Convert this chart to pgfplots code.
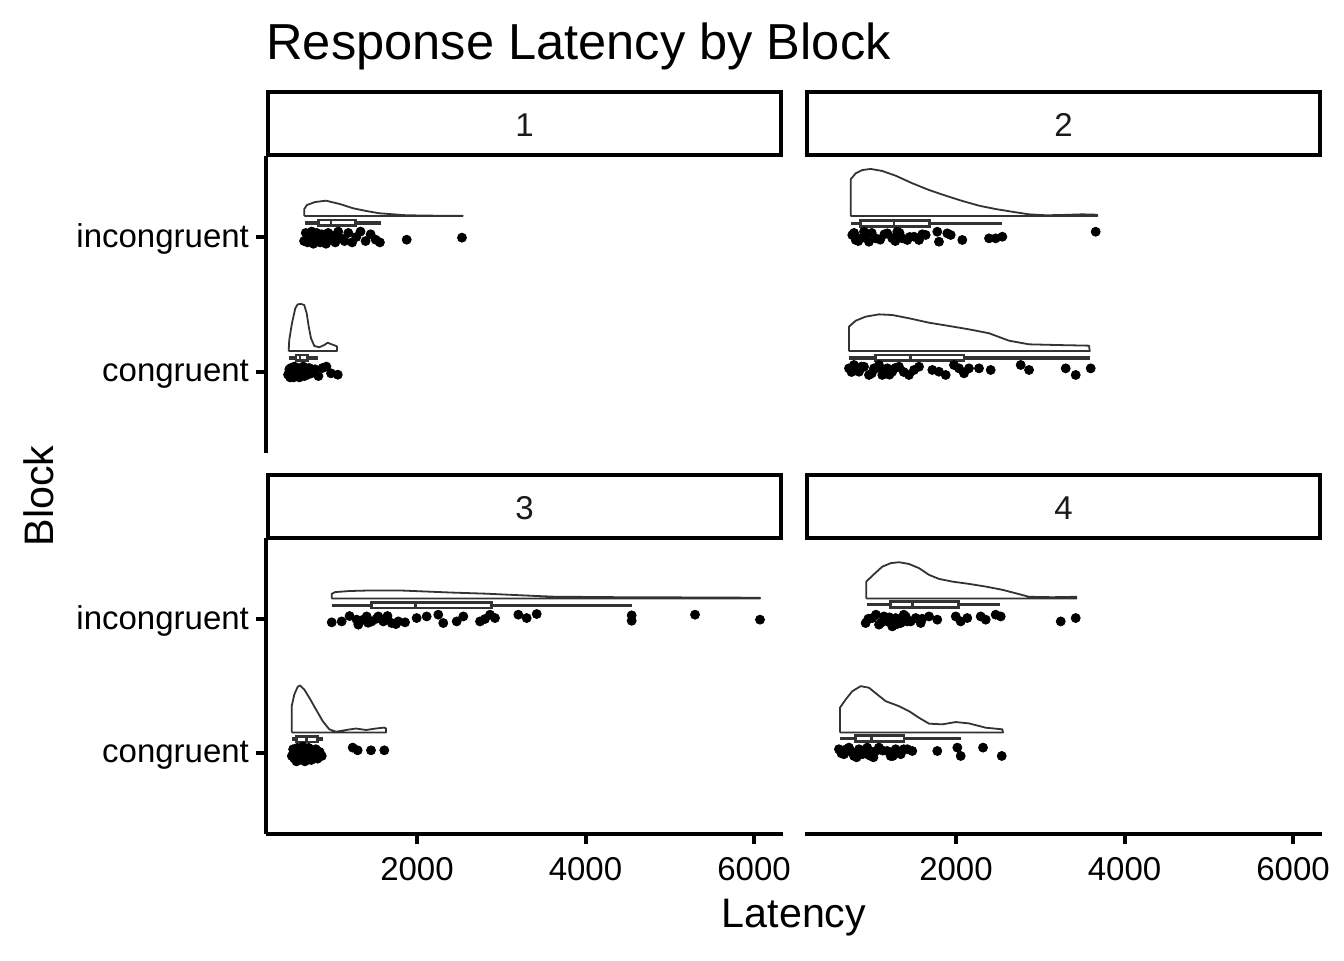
\documentclass[border=0pt]{standalone}
\usepackage{fontspec}
\setmainfont{Liberation Sans}
\usepackage{pgfplots}
\pgfplotsset{compat=1.18}
\usepgfplotslibrary{statistics}
\definecolor{ln}{HTML}{333333}
\definecolor{strip}{HTML}{1A1A1A}
\pgfplotsset{
  panel/.style={
    scale only axis, width=258.5pt, height=148.5pt,
    xmin=208, xmax=6344, ymin=0.4, ymax=2.6,
    anchor=north west,
    axis line style={line width=2pt, black},
    every tick/.style={line width=2pt, black},
    major tick length=5pt,
    tick align=outside,
    xtick={2000,4000,6000}, xticklabels={2000,4000,6000},
    ytick={1,2}, yticklabels={congruent,incongruent},
    tick label style={font=\fontsize{16.5}{19.8}\selectfont, black},
    xticklabel style={yshift=-3pt},
    yticklabel style={yshift=-1.2pt},
    /pgf/number format/assume math mode=true,
    clip=false,
  },
  vio/.style={line width=0.9pt, ln, line join=round},
  pts/.style={only marks, mark=*, mark size=2.25pt, black},
  bx/.style={ln, line width=1.4pt, fill=white, solid,
    boxplot/draw direction=x, boxplot/box extend=0.042, boxplot/whisker extend=0,
    boxplot/every whisker/.style={line width=1.7pt}},
}
\begin{document}
\begin{tikzpicture}
\path[use as bounding box] (0,0) rectangle (672pt,480pt);

% ---------- Panel 1 ----------
\begin{axis}[panel, at={(133pt,402pt)}, axis x line=none, axis y line*=left, xtick=\empty]
\addplot[vio] coordinates {(662,2.155) (662,2.207) (694,2.237) (789,2.259) (920,2.269) (1086,2.244) (1240,2.213) (1395,2.193) (1549,2.176) (1869,2.161) (2200,2.158) (2542,2.158) (2542,2.155) (662,2.155)};
\addplot[vio] coordinates {(477,1.155) (484,1.237) (516,1.361) (556,1.472) (584,1.501) (623,1.504) (662,1.496) (691,1.435) (715,1.336) (742,1.250) (781,1.193) (840,1.183) (900,1.200) (940,1.217) (979,1.207) (1039,1.193) (1050,1.190) (1050,1.155) (477,1.155)};
\addplot[bx, boxplot prepared={lower whisker=671, lower quartile=828, median=979, upper quartile=1268, upper whisker=1573, draw position=2.105}] coordinates {};
\addplot[bx, boxplot prepared={lower whisker=484, lower quartile=564, median=611, upper quartile=703, upper whisker=821, draw position=1.105}] coordinates {};
\addplot[pts] coordinates {(660,1.97) (680,2.03) (700,1.96) (715,2.01) (735,1.98) (750,2.04) (770,1.95) (790,2.00) (810,2.03) (830,1.97) (850,1.96) (870,2.02) (895,1.99) (920,1.95) (945,2.03) (970,1.98) (1000,2.01) (1030,1.96) (1065,2.04) (1100,1.99) (1140,1.97) (1185,2.03) (1230,1.96) (1280,2.00) (1330,2.04) (1390,1.97) (1450,2.02) (1510,1.98) (1560,1.96) (1878,1.98) (2534,1.995)};
\addplot[pts] coordinates {(470,0.98) (485,1.02) (495,0.96) (505,1.03) (515,0.99) (525,1.01) (535,0.96) (545,1.04) (555,0.98) (565,1.01) (575,0.97) (585,1.03) (595,1.00) (605,0.96) (620,1.02) (635,0.99) (650,1.04) (665,0.97) (680,1.01) (700,0.98) (720,1.03) (745,0.99) (790,1.02) (830,0.97) (880,1.03) (925,1.04) (980,0.99) (1060,0.98)};
\end{axis}

% ---------- Panel 2 ----------
\begin{axis}[panel, at={(402.5pt,402pt)}, axis lines=none, xtick=\empty, ytick=\empty]
\addplot[vio] coordinates {(750,2.155) (750,2.427) (810,2.472) (888,2.496) (988,2.504) (1125,2.489) (1284,2.454) (1481,2.398) (1680,2.348) (1878,2.306) (2075,2.267) (2273,2.232) (2471,2.207) (2668,2.187) (2866,2.168) (3065,2.161) (3262,2.163) (3499,2.168) (3677,2.165) (3677,2.155) (750,2.155)};
\addplot[vio] coordinates {(730,1.155) (730,1.336) (810,1.380) (928,1.410) (1086,1.427) (1244,1.422) (1442,1.398) (1680,1.365) (1917,1.341) (2154,1.316) (2392,1.287) (2629,1.232) (2866,1.205) (3184,1.200) (3579,1.195) (3587,1.155) (730,1.155)};
\addplot[bx, boxplot prepared={lower whisker=750, lower quartile=869, median=1264, upper quartile=1688, upper whisker=2550, draw position=2.1}] coordinates {};
\addplot[bx, boxplot prepared={lower whisker=730, lower quartile=1047, median=1462, upper quartile=2095, upper whisker=3587, draw position=1.105}] coordinates {};
\addplot[pts] coordinates {(769,2.015) (810,1.978) (869,1.990) (908,2.039) (967,1.965) (1047,1.990) (1185,2.027) (1244,1.990) (1303,2.039) (1363,1.990) (1422,1.978) (1502,2.002) (1561,1.978) (1640,2.015) (1778,2.039) (1798,1.965) (1897,2.027) (1937,2.015) (2075,1.978) (2392,1.990) (2471,1.990) (2550,2.002) (3658,2.039) (790,2.03) (840,1.97) (930,2.01) (1000,2.03) (1100,1.98) (1150,2.02) (1280,1.97) (1330,2.03) (1450,2.00) (1600,2.02)};
\addplot[pts] coordinates {(730,1.027) (789,1.052) (849,1.002) (908,1.039) (967,0.978) (1027,1.027) (1086,1.052) (1125,0.978) (1185,1.027) (1244,1.002) (1323,1.039) (1442,0.978) (1502,1.015) (1561,1.039) (1719,1.015) (1798,1.002) (1878,0.978) (1976,1.052) (2036,1.027) (2095,0.990) (2154,1.027) (2273,1.027) (2412,1.015) (2768,1.052) (2867,1.015) (3302,1.027) (3421,0.978) (3599,1.027) (760,1.00) (880,1.04) (1000,0.99) (1060,1.03) (1150,1.00) (1210,0.98) (1280,1.03) (1380,1.00)};
\end{axis}

% ---------- Panel 3 ----------
\begin{axis}[panel, at={(133pt,211pt)}, height=148pt, axis lines*=left]
\addplot[vio] coordinates {(988,2.150) (988,2.185) (1030,2.198) (1200,2.206) (1442,2.210) (1798,2.210) (2036,2.204) (2431,2.194) (2827,2.186) (3100,2.178) (3381,2.170) (3618,2.164) (4410,2.160) (5398,2.158) (6071,2.156) (6071,2.150) (988,2.150)};
\addplot[vio] coordinates {(513,1.155) (513,1.350) (544,1.437) (584,1.494) (611,1.504) (662,1.474) (722,1.413) (801,1.326) (881,1.239) (959,1.178) (1039,1.160) (1157,1.173) (1276,1.184) (1395,1.173) (1513,1.184) (1612,1.191) (1632,1.185) (1632,1.155) (513,1.155)};
\addplot[bx, boxplot prepared={lower whisker=988, lower quartile=1462, median=1985, upper quartile=2887, upper whisker=4548, draw position=2.1}] coordinates {};
\addplot[bx, boxplot prepared={lower whisker=513, lower quartile=572, median=691, upper quartile=821, upper whisker=881, draw position=1.105}] coordinates {};
\addplot[pts] coordinates {(988,1.973) (1106,1.980) (1284,1.993) (1304,1.956) (1403,2.017) (1462,1.980) (1541,2.017) (1600,1.980) (1700,1.968) (1779,1.980) (1858,1.973) (1996,2.005) (2115,2.017) (2253,2.030) (2312,1.968) (2471,1.980) (2550,2.017) (2748,1.980) (2807,1.998) (2867,2.030) (2926,2.005) (3203,2.030) (3302,2.005) (3421,2.035) (4548,2.025) (4548,1.985) (5300,2.030) (6071,1.993) (1200,2.02) (1350,1.99) (1420,1.97) (1520,2.00) (1650,2.02) (1750,1.96)};
\addplot[pts] coordinates {(515,0.98) (530,1.03) (545,0.96) (555,1.01) (570,0.94) (580,1.04) (595,0.99) (605,0.95) (620,1.02) (630,0.97) (645,1.05) (660,0.99) (670,0.94) (685,1.02) (700,0.97) (715,1.04) (730,0.99) (745,0.95) (760,1.02) (780,0.97) (800,1.03) (820,0.96) (845,1.01) (870,0.98) (1237,1.042) (1296,1.022) (1454,1.022) (1612,1.022)};
\end{axis}

% ---------- Panel 4 ----------
\begin{axis}[panel, at={(402.5pt,211pt)}, height=148pt, axis x line*=bottom, axis y line=none, ytick=\empty]
\addplot[vio] coordinates {(935,2.150) (935,2.276) (1027,2.331) (1125,2.387) (1225,2.413) (1324,2.420) (1442,2.407) (1561,2.376) (1680,2.326) (1798,2.296) (1956,2.276) (2154,2.259) (2353,2.239) (2550,2.215) (2748,2.183) (2866,2.163) (3143,2.160) (3428,2.163) (3428,2.150) (935,2.150)};
\addplot[vio] coordinates {(623,1.155) (623,1.339) (691,1.400) (769,1.461) (869,1.499) (967,1.487) (1066,1.437) (1166,1.387) (1324,1.350) (1442,1.313) (1561,1.264) (1680,1.220) (1837,1.215) (1997,1.232) (2154,1.222) (2353,1.190) (2550,1.178) (2558,1.155) (623,1.155)};
\addplot[bx, boxplot prepared={lower whisker=947, lower quartile=1225, median=1481, upper quartile=2027, upper whisker=2519, draw position=2.105}] coordinates {};
\addplot[bx, boxplot prepared={lower whisker=623, lower quartile=810, median=999, upper quartile=1383, upper whisker=2056, draw position=1.11}] coordinates {};
\addplot[pts] coordinates {(928,1.968) (1007,2.005) (1086,1.956) (1145,2.017) (1185,1.980) (1244,1.943) (1284,2.005) (1344,1.968) (1403,2.017) (1462,1.980) (1522,2.005) (1581,1.968) (1680,2.017) (1778,1.993) (1997,2.017) (2056,1.980) (2134,2.005) (2293,2.017) (2353,1.993) (2471,2.030) (2531,2.017) (3243,1.980) (3421,2.005) (960,2.00) (1050,2.03) (1110,1.97) (1210,2.01) (1300,1.96) (1380,2.03) (1420,1.98) (1600,2.00)};
\addplot[pts] coordinates {(611,1.030) (670,0.993) (730,1.042) (789,0.980) (849,1.030) (888,0.993) (947,1.042) (988,0.980) (1047,1.017) (1086,1.042) (1185,1.017) (1225,0.980) (1284,1.030) (1344,0.993) (1422,1.030) (1481,1.017) (1778,1.017) (2016,1.042) (2056,0.980) (2321,1.042) (2543,0.980) (640,1.00) (700,1.03) (760,1.01) (820,0.97) (910,1.02) (960,0.99) (1020,0.97) (1130,1.02) (1250,0.98) (1380,1.03)};
\end{axis}

% ---------- strips ----------
\begin{scope}[line width=2pt]
\draw[fill=white] (134pt,434pt) rectangle (390.65pt,402.65pt);
\draw[fill=white] (403.5pt,434pt) rectangle (660.15pt,402.65pt);
\draw[fill=white] (134pt,242.35pt) rectangle (390.65pt,211pt);
\draw[fill=white] (403.5pt,242.35pt) rectangle (660.15pt,211pt);
\end{scope}
\begin{scope}[font=\fontsize{16.5}{19.8}\selectfont, text=strip]
\node at (262.3pt,417.5pt) {1};
\node at (531.8pt,417.5pt) {2};
\node at (262.3pt,225.9pt) {3};
\node at (531.8pt,225.9pt) {4};
\end{scope}

% ---------- titles ----------
\node[anchor=base west, inner sep=0pt, font=\fontsize{25.3}{30}\selectfont] at (133pt,450pt) {Response Latency by Block};
\node[anchor=base, inner sep=0pt, font=\fontsize{20.6}{24}\selectfont] at (397pt,16.25pt) {Latency};
\node[anchor=base, inner sep=0pt, rotate=90, font=\fontsize{20.6}{24}\selectfont] at (26.5pt,232pt) {Block};
\end{tikzpicture}
\end{document}
